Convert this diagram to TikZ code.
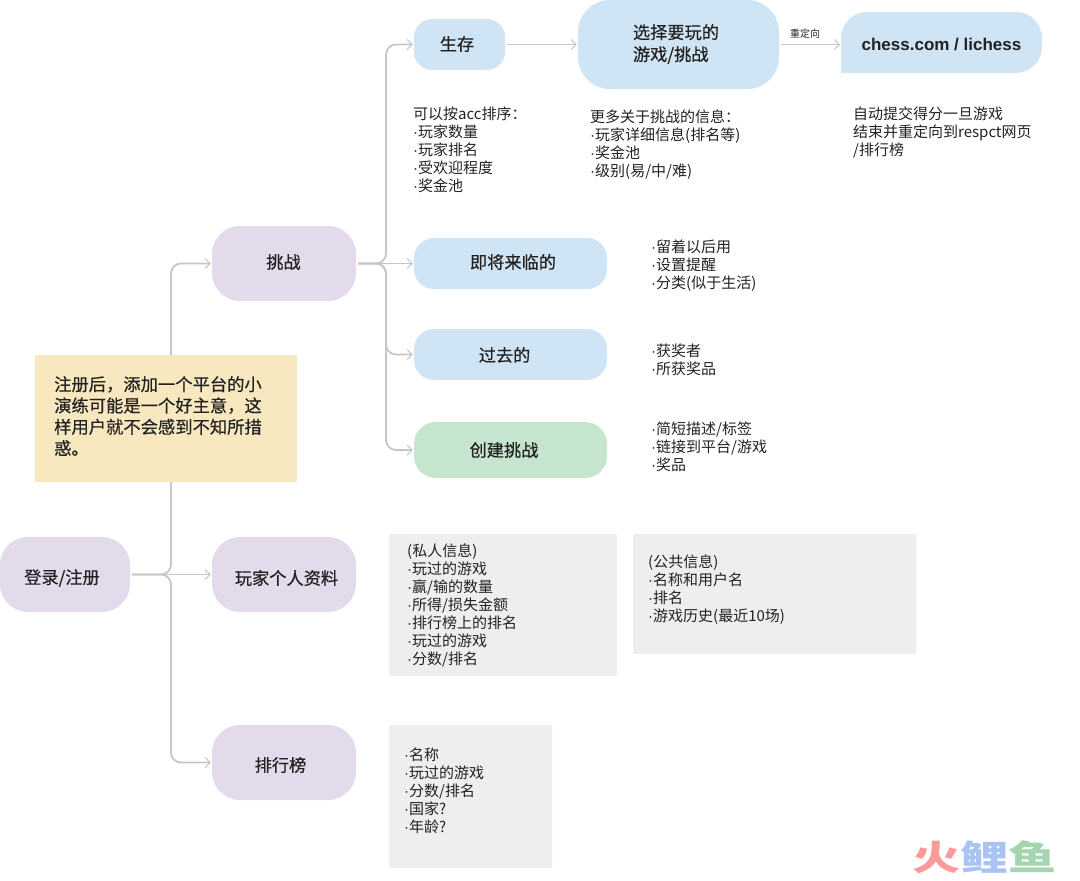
\documentclass[tikz,border=0pt]{standalone}
\usepackage{fontspec}
\setmainfont{Noto Sans CJK SC}
\newfontfamily\medfont{Noto Sans CJK SC}[FakeBold=0.5]
\newfontfamily\latinbold{Liberation Sans}[BoldFont={Liberation Sans Bold}]
\newfontfamily\dotfont{Liberation Sans}
\newcommand{\bl}{{\dotfont ·}}
\usetikzlibrary{arrows.meta}
\definecolor{purp}{HTML}{E3DAEC}
\definecolor{blu}{HTML}{CFE4F4}
\definecolor{grn}{HTML}{C6E5CF}
\definecolor{yel}{HTML}{F8E8C0}
\definecolor{gry}{HTML}{EEEEEE}
\definecolor{lin}{HTML}{C6C6C6}
\definecolor{ink}{HTML}{222222}
\definecolor{logored}{HTML}{FB9A9A}
\definecolor{logoblue}{HTML}{A9C4F2}
\definecolor{logogreen}{HTML}{A3D5AE}
\tikzset{
  x=1pt,y=-1pt,
  pill/.style={rounded corners=#1,inner sep=0pt},
  lab/.style={inner sep=0pt,text=ink,align=center,font=\medfont\fontsize{17.2}{22}\selectfont},
  conn/.style={draw=lin,line width=1.8pt,rounded corners=10pt,shorten >=1pt,shorten <=2pt,
    -{Straight Barb[length=5pt,width=10pt,line width=1pt]}},
  note/.style={anchor=north west,inner sep=0pt,align=left,text=ink,font=\fontsize{15}{18}\selectfont},
  panel/.style={fill=gry,rounded corners=1pt,inner sep=0pt},
}
\newcommand{\pillnode}[7]{\node[pill=#6,fill=#7,minimum width=#4-#2,minimum height=#5-#3] (#1) at ({(#2+#4)/2},{(#3+#5)/2}) {};}
\begin{document}
\begin{tikzpicture}
\useasboundingbox (0,0) rectangle (1080,881);
\coordinate (busa) at (171,400);
\coordinate (busb) at (386,200);

% grey panels
\node[panel,minimum width=228pt,minimum height=142pt] (panelA) at (503,605) {};
\node[panel,minimum width=283pt,minimum height=120pt] (panelB) at (774.5,594) {};
\node[panel,minimum width=163pt,minimum height=143pt] (panelC) at (470.5,796.5) {};

% boxes
\pillnode{login}{0}{537}{130}{612}{28pt}{purp}
\pillnode{chal}{212}{226}{356}{301}{28pt}{purp}
\pillnode{profile}{212}{537}{356}{612}{28pt}{purp}
\pillnode{rank}{212}{725}{356}{800}{28pt}{purp}
\pillnode{survive}{414}{19}{505}{70}{18pt}{blu}
\pillnode{select}{578}{0}{779}{89}{32pt}{blu}
\pillnode{upcoming}{414}{238}{607}{289}{20pt}{blu}
\pillnode{past}{414}{329}{607}{380}{20pt}{blu}
\pillnode{create}{414}{422}{607}{478}{22pt}{grn}
\fill[blu] (841,73) [rounded corners=3pt] -- (841,73) [rounded corners=26pt] -- (841,12) -- (1042,12) -- (1042,73) [sharp corners] -- cycle;

\node[lab] (loginT) at (62,578) {登录/注册};
\node[lab] (chalT) at (283.5,262) {挑战};
\node[lab] (profileT) at (286.5,578) {玩家个人资料};
\node[lab] (rankT) at (280.5,765) {排行榜};
\node[lab] (surviveT) at (457,44) {生存};
\node[lab,align=left] (selectT) at (676,44) {选择要玩的\\游戏/挑战};
\node[lab] (upcomingT) at (513,262) {即将来临的};
\node[lab] (pastT) at (504.5,355) {过去的};
\node[lab] (createT) at (504,450) {创建挑战};
\node[inner sep=0pt,text=ink,font=\latinbold\bfseries\fontsize{17}{20}\selectfont] (chess) at (941.5,45) {chess.com / lichess};
\coordinate (chessW) at (841,44.5);

% connectors
\draw[conn] (login.east) -- (busa |- login.east) -- (busa |- chal.west) -- (chal.west);
\draw[conn] (login.east) -- (profile.west);
\draw[conn] (login.east) -- (busa |- login.east) -- (busa |- rank.west) -- (rank.west);
\draw[conn] (chal.east) -- (busb |- chal.east) -- (busb |- survive.west) -- (survive.west);
\draw[conn] (chal.east) -- (upcoming.west);
\draw[conn] (chal.east) -- (busb |- chal.east) -- (busb |- past.west) -- (past.west);
\draw[conn] (chal.east) -- (busb |- chal.east) -- (busb |- create.west) -- (create.west);
\draw[conn] (survive.east) -- (select.west |- survive.east);
\draw[conn] (select.east |- chessW) -- (chessW);
\node[inner sep=0pt,text=ink,font=\fontsize{10}{12}\selectfont] (redir) at (805,33.5) {重定向};

% yellow note
\node[fill=yel,rounded corners=1pt,minimum width=262pt,minimum height=127pt,inner sep=0pt] (tip) at (166,418.5) {};
\node[note,font=\medfont\fontsize{17.3}{21.3}\selectfont] (tiptext) at (54,376) {注册后，添加一个平台的小\\演练可能是一个好主意，这\\样用户就不会感到不知所措\\惑。};

% notes
\node[note] (n1) at (413,107) {可以按acc排序：\\\bl 玩家数量\\\bl 玩家排名\\\bl 受欢迎程度\\\bl 奖金池};
\node[note] (n2) at (590,110) {更多关于挑战的信息：\\\bl 玩家详细信息(排名等)\\\bl 奖金池\\\bl 级别(易/中/难)};
\node[note] (n3) at (853,107) {自动提交得分一旦游戏\\结束并重定向到respct网页\\/排行榜};
\node[note] (n4) at (651,240) {\bl 留着以后用\\\bl 设置提醒\\\bl 分类(似于生活)};
\node[note] (n5) at (651,344) {\bl 获奖者\\\bl 所获奖品};
\node[note] (n6) at (651,422) {\bl 简短描述/标签\\\bl 链接到平台/游戏\\\bl 奖品};
\node[note] (n7) at (407,544) {(私人信息)\\\bl 玩过的游戏\\\bl 赢/输的数量\\\bl 所得/损失金额\\\bl 排行榜上的排名\\\bl 玩过的游戏\\\bl 分数/排名};
\node[note] (n8) at (648,555) {(公共信息)\\\bl 名称和用户名\\\bl 排名\\\bl 游戏历史(最近10场)};
\node[note] (n9) at (404,748) {\bl 名称\\\bl 玩过的游戏\\\bl 分数/排名\\\bl 国家?\\\bl 年龄?};

% logo
\node[inner sep=0pt,font=\bfseries\fontsize{48}{50}\selectfont] (logo) at (984,857.5) {\scalebox{1}[0.72]{\textcolor{logored}{火}\textcolor{logoblue}{鲤}\textcolor{logogreen}{鱼}}};
\end{tikzpicture}
\end{document}
